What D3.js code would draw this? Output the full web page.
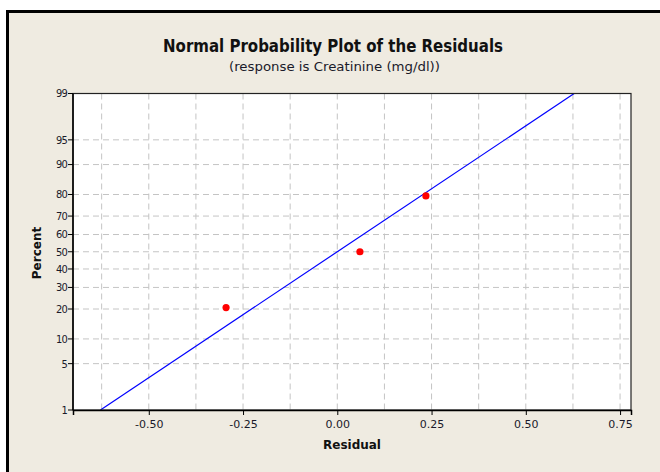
<!DOCTYPE html>
<html>
<head>
<meta charset="utf-8">
<script src="https://cdn.jsdelivr.net/npm/d3@7"></script>
<style>
  body { margin: 0; background: #fff; }
  svg { display: block; }
</style>
</head>
<body>
<svg id="chart" width="660" height="472"></svg>
<script>
// residuals and their median-rank percents
const residuals = [-0.295, 0.06, 0.235];
const percents = [20.6, 50, 79.4];
const xTicks = [-0.5, -0.25, 0, 0.25, 0.5, 0.75];
const xGrid = [-0.625, -0.5, -0.375, -0.25, -0.125, 0, 0.125, 0.25, 0.375, 0.5, 0.625, 0.75];
const yTicks = [1, 5, 10, 20, 30, 40, 50, 60, 70, 80, 90, 95, 99];

const width = 660;
const height = 472;
const margin = { top: 93.5, right: 29, bottom: 62, left: 73 };

const svg = d3.select("#chart");

// outer frame
svg.append("rect")
  .attr("x", 7.5).attr("y", 11.5)
  .attr("width", 700).attr("height", 500)
  .attr("fill", "#efebe1")
  .attr("stroke", "#000")
  .attr("stroke-width", 3);

const x = d3.scaleLinear()
  .domain([-0.701, 0.779])
  .range([margin.left, width - margin.right]);

// probability scale: normal quantile of percent
const zmax = 2.3263;
const q = (p) => {
  // inverse normal via bisection on the cdf
  let lo = -6, hi = 6;
  for (let i = 0; i < 60; i++) {
    const mid = (lo + hi) / 2;
    if (cdf(mid) < p) lo = mid; else hi = mid;
  }
  return (lo + hi) / 2;
};
function cdf(z) {
  const t = 1 / (1 + 0.3275911 * Math.abs(z) / Math.SQRT2);
  const y = 1 - (((((1.061405429 * t - 1.453152027) * t) + 1.421413741) * t - 0.284496736) * t + 0.254829592) * t * Math.exp(-z * z / 2);
  return z >= 0 ? (1 + y) / 2 : (1 - y) / 2;
}
const z = d3.scaleLinear()
  .domain([-zmax, zmax])
  .range([height - margin.bottom, margin.top]);
const y = (p) => z(q(p / 100));

const plot = svg.append("g");

plot.append("rect")
  .attr("x", margin.left).attr("y", margin.top)
  .attr("width", width - margin.right - margin.left)
  .attr("height", height - margin.bottom - margin.top)
  .attr("fill", "#fff");

// gridlines
plot.append("g")
  .selectAll("line")
  .data(xGrid)
  .join("line")
  .attr("x1", (d) => x(d)).attr("x2", (d) => x(d))
  .attr("y1", margin.top).attr("y2", height - margin.bottom)
  .attr("stroke", "#c4c4c4")
  .attr("stroke-dasharray", "6,4");

plot.append("g")
  .selectAll("line")
  .data(yTicks.filter((d) => d > 1 && d < 99))
  .join("line")
  .attr("x1", margin.left).attr("x2", width - margin.right)
  .attr("y1", (d) => y(d)).attr("y2", (d) => y(d))
  .attr("stroke", "#c4c4c4")
  .attr("stroke-dasharray", "6,4");

// fitted line from mean and sd of residuals
const mean = d3.mean(residuals);
const sd = d3.deviation(residuals);
const fit = [-zmax, zmax].map((zz) => [mean + sd * zz, zz]);
plot.append("line")
  .attr("x1", x(fit[0][0])).attr("y1", z(fit[0][1]))
  .attr("x2", x(fit[1][0])).attr("y2", z(fit[1][1]))
  .attr("stroke", "#0000ff")
  .attr("stroke-width", 1.2);

// points
plot.append("g")
  .selectAll("circle")
  .data(residuals)
  .join("circle")
  .attr("cx", (d) => x(d))
  .attr("cy", (d, i) => y(percents[i]))
  .attr("r", 3.6)
  .attr("fill", "#ff0000");

// frame
plot.append("rect")
  .attr("x", margin.left).attr("y", margin.top)
  .attr("width", width - margin.right - margin.left)
  .attr("height", height - margin.bottom - margin.top)
  .attr("fill", "none")
  .attr("stroke", "#222")
  .attr("stroke-width", 1.2);

// x axis
const xAxis = svg.append("g")
  .attr("transform", `translate(0,${height - margin.bottom})`)
  .call(d3.axisBottom(x).tickValues(xTicks).tickFormat(d3.format(".2f")).tickSize(5).tickPadding(5));
xAxis.select(".domain").attr("stroke", "#000").attr("stroke-width", 1.5);
xAxis.selectAll(".tick text")
  .attr("font-family", "DejaVu Sans")
  .attr("font-size", "11px")
  .attr("fill", "#1a1a2a")
  .text((d) => d3.format(".2f")(d).replace("−", "-"));

// y axis
const yAxis = svg.append("g")
  .attr("transform", `translate(${margin.left},0)`);
yAxis.append("line")
  .attr("y1", margin.top).attr("y2", height - margin.bottom)
  .attr("stroke", "#000").attr("stroke-width", 1.5);
const yt = yAxis.selectAll(".ytick")
  .data(yTicks)
  .join("g")
  .attr("class", "ytick")
  .attr("transform", (d) => `translate(0,${y(d)})`);
yt.append("line").attr("x1", -5).attr("x2", 0).attr("stroke", "#000");
yt.append("text")
  .attr("x", -6)
  .attr("dy", "0.35em")
  .attr("text-anchor", "end")
  .attr("font-family", "DejaVu Sans Condensed, DejaVu Sans")
  .attr("font-size", "11px")
  .attr("letter-spacing", "-0.8")
  .attr("fill", "#1a1a2a")
  .text((d) => d);

// titles
svg.append("text")
  .attr("x", 333).attr("y", 52)
  .attr("text-anchor", "middle")
  .attr("font-family", "DejaVu Sans Condensed, DejaVu Sans")
  .attr("font-weight", "bold")
  .attr("font-size", "17px")
  .attr("textLength", 340)
  .attr("lengthAdjust", "spacingAndGlyphs")
  .attr("fill", "#111")
  .text("Normal Probability Plot of the Residuals");

svg.append("text")
  .attr("x", 334.5).attr("y", 71)
  .attr("text-anchor", "middle")
  .attr("font-family", "DejaVu Sans")
  .attr("font-size", "12.5px")
  .attr("textLength", 211)
  .attr("lengthAdjust", "spacingAndGlyphs")
  .attr("fill", "#1a1a2a")
  .text("(response is Creatinine (mg/dl))");

svg.append("text")
  .attr("x", 352).attr("y", 449)
  .attr("text-anchor", "middle")
  .attr("font-family", "DejaVu Sans")
  .attr("font-weight", "bold")
  .attr("font-size", "12px")
  .attr("fill", "#111")
  .text("Residual");

svg.append("text")
  .attr("transform", "translate(41,253) rotate(-90)")
  .attr("text-anchor", "middle")
  .attr("font-family", "DejaVu Sans")
  .attr("font-weight", "bold")
  .attr("font-size", "12px")
  .attr("fill", "#111")
  .text("Percent");
</script>
</body>
</html>
